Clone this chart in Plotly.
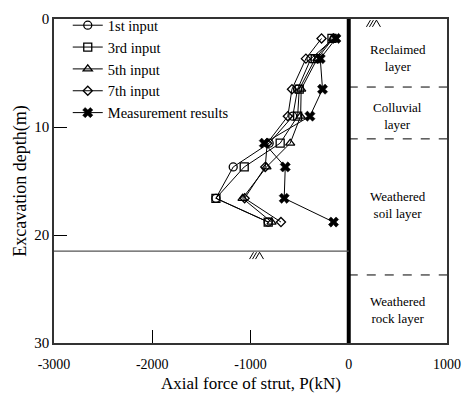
import plotly.graph_objects as go

depth = [1.8, 3.67, 6.5, 9.0, 11.5, 13.7, 16.6, 18.8]
input1 = [-150, -385, -521, -570, -810, -1176, -1352, -820]
input3 = [-171, -341, -504, -520, -698, -1064, -1352, -820]
input5 = [-160, -320, -484, -490, -596, -837, -1081, -786]
input7 = [-277, -436, -578, -620, -830, -850, -1060, -690]
measured = [-130, -290, -267, -395, -860, -646, -657, -155]

x_ticks = [-3000, -2000, -1000, 0, 1000]
x_tick_text = ["-3000", "-2000", "-1000", "0", "1000"]
y_ticks = [0, 10, 20, 30]

layer_names = ["Reclaimed<br>layer", "Colluvial<br>layer", "Weathered<br>soil layer", "Weathered<br>rock layer"]
layer_label_depth = [3.6, 9.0, 17.2, 26.9]
layer_bounds = [6.3, 11.1, 23.7]
excavation_level = 21.5

FONT = "Times New Roman, Liberation Serif, serif"

fig = go.Figure()
series = [
    ("1st input", input1, "circle-open", 8),
    ("3rd input", input3, "square-open", 8),
    ("5th input", input5, "triangle-up-open", 8),
    ("7th input", input7, "diamond-open", 7),
]
for name, vals, sym, sz in series:
    fig.add_trace(go.Scatter(
        x=vals, y=depth, name=name, mode="lines+markers",
        line=dict(color="black", width=1),
        marker=dict(symbol=sym, size=sz, color="black", line=dict(width=1.3, color="black")),
    ))
fig.add_trace(go.Scatter(
    x=measured, y=depth, name="Measurement results", mode="lines+markers",
    line=dict(color="black", width=1),
    marker=dict(symbol="x", size=9, color="black", line=dict(width=0.5, color="black")),
))

shapes = []
# wall
shapes.append(dict(type="line", x0=0, x1=0, y0=0, y1=30, xref="x", yref="y",
                   line=dict(color="black", width=4)))
# layer boundaries
for b in layer_bounds:
    shapes.append(dict(type="line", x0=0, x1=1000, y0=b, y1=b, xref="x", yref="y",
                       line=dict(color="black", width=1, dash="dash")))
# excavation level
shapes.append(dict(type="line", x0=-3000, x1=0, y0=excavation_level, y1=excavation_level,
                   xref="x", yref="y", line=dict(color="#555555", width=1.3)))


def hatch(xs, ys):
    # small ground symbol: three slashes and a backslash
    px = 10.18  # data units per pixel (x)
    py = 1 / 11.1  # data units per pixel (y)
    h = 7
    out = []
    for off in (0, 3, 6):
        out.append(dict(type="line", x0=xs + off * px, x1=xs + (off + 4) * px,
                        y0=ys + h * py, y1=ys, xref="x", yref="y",
                        line=dict(color="black", width=1)))
    out.append(dict(type="line", x0=xs + 10 * px, x1=xs + 14 * px,
                    y0=ys, y1=ys + h * py, xref="x", yref="y",
                    line=dict(color="black", width=1)))
    return out

shapes += hatch(180, 0.1)
shapes += hatch(-1010, excavation_level + 0.1)

annotations = []
for name, d in zip(layer_names, layer_label_depth):
    annotations.append(dict(x=500, y=d, xref="x", yref="y", text=name, showarrow=False,
                            font=dict(family=FONT, size=13, color="black"), align="center"))
# axis titles
annotations.append(dict(x=0.5, y=-0.126, xref="paper", yref="paper",
                        text="Axial force of strut, P(kN)", showarrow=False,
                        xanchor="center", yanchor="middle",
                        font=dict(family=FONT, size=17, color="black")))
annotations.append(dict(x=-0.087, y=0.5, xref="paper", yref="paper",
                        text="Excavation depth(m)", showarrow=False, textangle=-90,
                        xanchor="center", yanchor="middle",
                        font=dict(family=FONT, size=18, color="black")))

fig.update_layout(
    width=468, height=396,
    margin=dict(l=54, r=21, t=9, b=53),
    paper_bgcolor="white", plot_bgcolor="white",
    font=dict(family=FONT, color="black", size=15),
    showlegend=True,
    legend=dict(x=0.035, y=1.03, xanchor="left", yanchor="top",
                bgcolor="rgba(0,0,0,0)", font=dict(family=FONT, size=14.5, color="black"),
                tracegroupgap=0),
    shapes=shapes,
    annotations=annotations,
)
fig.update_xaxes(
    range=[-3000, 1000], tickvals=x_ticks, ticktext=x_tick_text,
    ticks="inside", ticklen=13, tickcolor="black", tickwidth=1,
    showline=True, linecolor="#333333", linewidth=1.5, mirror=True,
    showgrid=False, zeroline=False, ticklabelstandoff=7, automargin=False,
    tickfont=dict(family=FONT, size=14, color="black"),
)
fig.update_yaxes(
    range=[30, 0], tickvals=y_ticks,
    ticks="inside", ticklen=13, tickcolor="black", tickwidth=1,
    showline=True, linecolor="#333333", linewidth=1.5, mirror=True,
    showgrid=False, zeroline=False, automargin=False,
    tickfont=dict(family=FONT, size=15, color="black"),
)

fig.write_html("out.html")
